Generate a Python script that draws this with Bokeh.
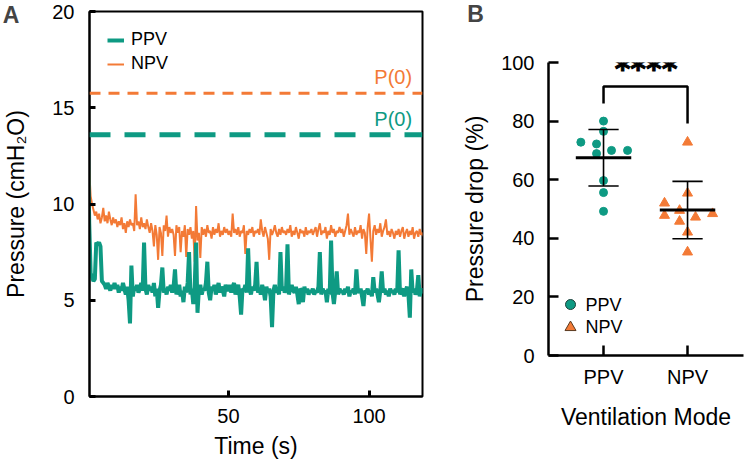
import numpy as np
from bokeh.plotting import figure
from bokeh.layouts import row
from bokeh.models import Span, Label, Legend, FixedTicker
from bokeh.embed import file_html
from bokeh.resources import INLINE
from bokeh.core.properties import value

TEAL = "#0e9a83"
ORANGE = "#f37a36"
FONT = "Liberation Sans"

# ---- Panel A: airway pressure traces, sampled every 0.5 s ----
time_step = 0.5
ppv_trace = [
    13.6, 9.0, 6.4, 6.2, 6.0, 6.1, 8.0, 7.9, 8.0, 7.8, 6.0, 5.9, 5.8, 5.6, 5.9, 5.7, 5.5, 5.8, 5.6, 5.9,
    5.6, 5.8, 5.4, 5.7, 5.5, 5.9, 5.6, 5.3, 5.7, 5.0, 3.8, 6.8, 5.2, 5.7, 5.5, 5.8, 5.4, 5.6, 5.9, 5.5,
    8.0, 5.6, 5.3, 5.8, 5.5, 5.7, 5.4, 5.9, 5.2, 5.6, 4.6, 5.5, 5.8, 6.7, 5.4, 5.6, 5.3, 5.7, 5.5, 5.8,
    5.4, 5.7, 6.6, 5.3, 5.6, 5.8, 5.2, 5.5, 4.9, 5.7, 5.4, 5.9, 7.5, 5.3, 5.6, 4.8, 5.7, 8.0, 4.35, 5.6,
    5.8, 5.3, 5.6, 5.5, 5.9, 7.0, 5.4, 5.0, 5.7, 5.5, 5.8, 5.3, 5.6, 5.9, 5.4, 5.7, 5.5, 5.2, 5.8, 5.6,
    5.5, 5.8, 5.4, 5.7, 5.9, 5.3, 5.6, 5.8, 5.2, 4.25, 5.6, 5.5, 5.8, 5.4, 7.7, 5.6, 5.3, 5.7, 5.5, 5.8,
    7.0, 5.4, 5.6, 5.3, 5.8, 5.5, 5.0, 5.7, 5.4, 5.6, 5.2, 3.6, 5.5, 5.8, 5.4, 5.6, 5.3, 7.5, 5.5, 5.7,
    5.4, 5.6, 7.9, 5.3, 5.6, 5.8, 5.5, 5.4, 5.7, 5.3, 4.8, 5.6, 5.5, 4.9, 5.7, 5.4, 5.6, 5.3, 5.5, 5.4,
    5.6, 5.3, 5.5, 5.4, 5.7, 7.5, 5.3, 5.6, 5.4, 5.5, 4.9, 5.6, 5.3, 8.1, 5.4, 4.8, 5.5, 6.5, 5.3, 5.6,
    5.4, 5.5, 5.3, 5.6, 5.4, 5.7, 5.2, 5.5, 5.4, 5.6, 5.3, 6.6, 5.5, 5.4, 5.6, 5.2, 4.7, 5.5, 5.4, 5.6,
    5.3, 5.5, 5.2, 6.2, 5.4, 5.6, 5.3, 4.9, 5.5, 6.5, 5.4, 5.6, 5.3, 5.5, 5.2, 5.6, 5.4, 5.5, 5.3, 5.6,
    5.4, 7.6, 5.3, 5.5, 5.6, 5.2, 5.5, 5.7, 5.3, 4.1, 6.6, 5.4, 5.6, 5.3, 5.5, 6.3, 5.2, 5.6, 5.4, 5.5,
    5.5,
]
npv_trace = [
    15.75, 11.8, 10.4, 10.0, 9.7, 9.4, 9.6, 9.2, 9.5, 9.0, 9.3, 9.8, 9.1, 9.4, 9.0, 9.6, 9.2, 8.9, 9.3, 9.0,
    9.2, 8.8, 9.1, 8.9, 9.3, 8.7, 9.0, 8.5, 9.1, 8.8, 9.2, 8.9, 9.0, 8.6, 10.5, 8.9, 9.1, 8.7, 9.3, 8.8,
    9.0, 8.7, 9.2, 8.8, 8.5, 9.0, 8.6, 7.8, 8.9, 8.4, 7.1, 8.8, 8.5, 7.3, 8.9, 8.6, 9.4, 8.3, 8.8, 8.5,
    8.7, 8.4, 7.3, 8.9, 8.5, 8.8, 7.5, 8.6, 8.3, 8.9, 7.25, 8.7, 8.4, 8.8, 8.2, 8.6, 7.0, 9.9, 8.1, 8.5,
    7.2, 8.8, 8.4, 8.7, 8.3, 8.9, 8.5, 8.6, 8.2, 8.8, 8.4, 8.7, 8.5, 9.0, 8.3, 8.6, 8.4, 8.8, 8.5, 8.7,
    8.4, 8.6, 8.3, 9.5, 8.5, 8.7, 8.4, 8.8, 8.3, 8.6, 8.5, 8.9, 7.4, 8.6, 8.4, 8.7, 8.5, 8.8, 8.3, 8.6,
    8.5, 8.7, 8.4, 9.2, 8.6, 8.3, 8.8, 8.5, 8.2, 7.1, 8.7, 8.4, 8.6, 8.9, 8.5, 8.3, 8.7, 8.4, 8.8, 8.5,
    8.6, 8.4, 8.7, 8.5, 8.9, 8.3, 8.6, 8.4, 8.8, 8.5, 8.2, 8.7, 8.5, 8.6, 8.3, 8.8, 8.4, 8.6, 8.5, 8.7,
    8.4, 8.6, 8.8, 8.3, 8.7, 9.0, 8.4, 8.6, 8.5, 8.8, 8.2, 8.6, 8.4, 8.9, 8.5, 8.7, 8.3, 8.6, 8.5, 8.8,
    8.5, 8.7, 8.3, 8.6, 8.9, 9.5, 8.4, 8.7, 8.5, 8.3, 8.8, 8.4, 8.6, 8.5, 8.9, 8.2, 8.7, 8.5, 7.4, 8.8,
    9.5, 8.2, 7.0, 8.6, 8.9, 8.4, 8.7, 8.5, 9.0, 8.3, 8.6, 8.8, 9.2, 8.4, 8.6, 8.3, 8.7, 8.5, 8.2, 8.6,
    8.4, 8.7, 8.3, 8.6, 8.8, 8.2, 8.5, 8.7, 8.3, 8.6, 8.4, 8.8, 8.2, 8.5, 8.6, 8.3, 8.7, 8.4, 8.5, 8.3,
    8.5,
]
time_s = np.arange(len(ppv_trace)) * time_step

# initial pressures P(0)
ppv_p0 = 13.6
npv_p0 = 15.75

# ---- Panel B: pressure drop per animal ----
modes = ["PPV", "NPV"]
ppv_drop = [80.0, 76.5, 72.8, 72.2, 70.0, 70.0, 68.9, 59.7, 55.6, 49.2]
npv_drop = [72.8, 55.4, 52.0, 47.8, 49.5, 45.8, 47.2, 48.4, 42.1, 35.3]
# horizontal spread of the dots around each group centre
ppv_jitter = [0.0, 0.0, -0.27, -0.083, 0.095, 0.286, -0.083, 0.0, 0.0, 0.0]
npv_jitter = [0.0, 0.0, -0.274, -0.274, -0.095, -0.095, 0.095, 0.298, 0.0, 0.0]


def style_axis(ax, tick_len, tick_w, line_w):
    ax.major_tick_in = tick_len
    ax.major_tick_out = 0
    ax.minor_tick_line_color = None
    ax.major_tick_line_width = tick_w
    ax.major_tick_line_color = "black"
    ax.axis_line_width = line_w
    ax.axis_line_color = "black"
    ax.major_label_text_font = FONT
    ax.major_label_text_font_size = "20px"
    ax.major_label_text_color = "black"
    ax.axis_label_text_font = FONT
    ax.axis_label_text_font_size = "23px"
    ax.axis_label_text_font_style = "normal"
    ax.axis_label_text_color = "black"


def panel_letter(text, x, y):
    # lives in a side panel so it may sit outside the plot frame
    return Label(x=x, y=y, text=text, text_align="center", text_baseline="middle",
                 text_font=FONT, text_font_size="23px", text_font_style="bold")


# ================= Panel A =================
pa = figure(width=440, height=461, x_range=(0.6, 119), y_range=(0, 20),
            output_backend="svg", toolbar_location=None, frame_align=False,
            min_border_left=89, min_border_right=18,
            min_border_top=11, min_border_bottom=64)
pa.grid.visible = False
pa.outline_line_color = "black"
pa.outline_line_width = 2
pa.background_fill_color = "white"
pa.border_fill_color = "white"

pa.xaxis.ticker = FixedTicker(ticks=[50, 100])
pa.yaxis.ticker = FixedTicker(ticks=[0, 5, 10, 15, 20])
style_axis(pa.xaxis[0], 6, 3, 2)
style_axis(pa.yaxis[0], 6, 3, 2)
pa.xaxis.axis_label = "Time (s)"
pa.yaxis.axis_label = "Pressure (cmH₂O)"
pa.xaxis.major_label_standoff = 12
pa.xaxis.axis_label_standoff = 7
pa.yaxis.major_label_standoff = 15
pa.yaxis.axis_label_standoff = 20

pa.add_layout(Span(location=npv_p0, dimension="width", line_color=ORANGE,
                   line_width=3, line_dash="11 8"))
pa.add_layout(Span(location=ppv_p0, dimension="width", line_color=TEAL,
                   line_width=5, line_dash="21 14"))

r_npv = pa.line(time_s, npv_trace, line_color=ORANGE, line_width=2)
r_ppv = pa.line(time_s, ppv_trace, line_color=TEAL, line_width=4)

for level, color in ((npv_p0, ORANGE), (ppv_p0, TEAL)):
    pa.add_layout(Label(x=115.3, y=level, text="P(0)", text_align="right",
                        text_baseline="bottom", y_offset=5, text_color=color,
                        text_font=FONT, text_font_size="20px"))

legend_a = Legend(items=[("PPV", [r_ppv]), ("NPV", [r_npv])], location="top_left",
                  border_line_color=None, background_fill_alpha=0,
                  margin=18, padding=9, spacing=3, glyph_width=17,
                  label_standoff=7, label_text_font=FONT,
                  label_text_font_size="18px", label_text_color="black")
pa.add_layout(legend_a)

# the right border has room for the letter's box; its position comes from the data scales
pa.add_layout(panel_letter("A", -27.3, 19.84), "right")

# ================= Panel B =================
pb = figure(width=304, height=461, x_range=(0.345, 2.666), y_range=(0, 100),
            output_backend="svg", toolbar_location=None, frame_align=False,
            min_border_left=108, min_border_right=1,
            min_border_top=62, min_border_bottom=106)
pb.grid.visible = False
pb.outline_line_color = None
pb.background_fill_color = "white"
pb.border_fill_color = "white"

pb.xaxis.ticker = FixedTicker(ticks=[1, 2])
pb.xaxis.major_label_overrides = {1: modes[0], 2: modes[1]}
pb.yaxis.ticker = FixedTicker(ticks=[0, 20, 40, 60, 80, 100])
style_axis(pb.xaxis[0], 10, 2.5, 2.5)
style_axis(pb.yaxis[0], 10, 2.5, 2.5)
pb.xaxis.axis_label = "Ventilation Mode"
pb.yaxis.axis_label = "Pressure drop (%)"
pb.xaxis.major_label_standoff = 10
pb.xaxis.axis_label_standoff = 13
pb.yaxis.major_label_standoff = 14
pb.yaxis.axis_label_standoff = 10

groups = [
    (1, ppv_drop, ppv_jitter, "circle", 8, TEAL),
    (2, npv_drop, npv_jitter, "triangle", 10, ORANGE),
]
for xc, vals, jit, marker, size, color in groups:
    vals = np.asarray(vals)
    pb.scatter(xc + np.asarray(jit), vals, marker=marker, size=size,
               fill_color=color, line_color=color)
    mean = vals.mean()
    sd = vals.std(ddof=1)
    pb.segment(x0=[xc - 0.33], y0=[mean], x1=[xc + 0.33], y1=[mean],
               line_color="black", line_width=3)
    pb.segment(x0=[xc], y0=[mean - sd], x1=[xc], y1=[mean + sd],
               line_color="black", line_width=1.6)
    pb.segment(x0=[xc - 0.18, xc - 0.18], y0=[mean - sd, mean + sd],
               x1=[xc + 0.18, xc + 0.18], y1=[mean - sd, mean + sd],
               line_color="black", line_width=1.6)

# significance bracket
pb.line([1, 1, 2, 2], [86, 91.8, 91.8, 79.2], line_color="black", line_width=2.5)
pb.add_layout(Label(x=1.506, y=98.0, text="****", text_align="center",
                    text_baseline="middle", text_font="DejaVu Sans",
                    text_font_size="30px", text_font_style="bold",
                    text_color="black", text_outline_color="black"))

# in-plot key
pb.scatter([0.607], [17.4], marker="circle", size=10, fill_color=TEAL,
           line_color="#1f3f3a", line_width=1)
pb.scatter([0.607], [9.6], marker="triangle", size=11, fill_color=ORANGE,
           line_color="#5a3a20", line_width=1)
pb.text([0.785, 0.785], [17.4, 9.6], text=modes, text_align="left",
        text_baseline="middle", text_font=value(FONT),
        text_font_size="18px", text_color="black")

pb.add_layout(panel_letter("B", -0.524, 116.7), "left")

layout = row(pa, pb)
with open("out.html", "w") as f:
    f.write(file_html(layout, INLINE))
